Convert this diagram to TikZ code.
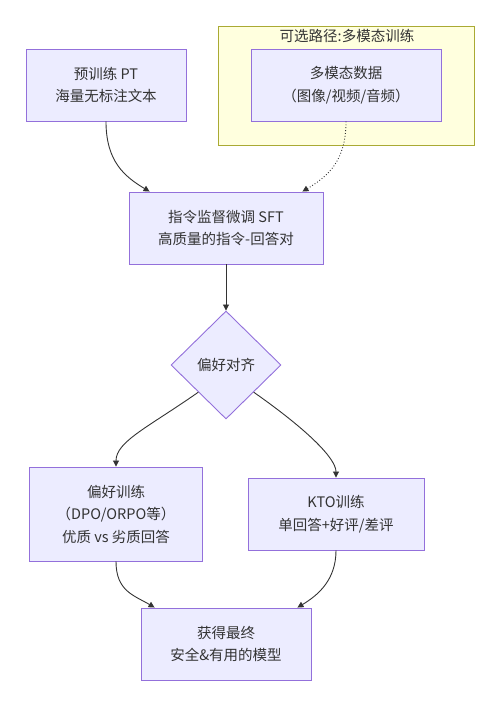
\documentclass[tikz,border=0pt]{standalone}
\usepackage{fontspec}
\setmainfont{Noto Sans CJK SC}
\usetikzlibrary{shapes.geometric}
\usetikzlibrary{arrows.meta}
\definecolor{boxfill}{HTML}{ECECFF}
\definecolor{boxline}{HTML}{9370DB}
\definecolor{areafill}{HTML}{FFFFDE}
\definecolor{arealine}{HTML}{AAAA33}
\definecolor{ink}{HTML}{333333}
\tikzset{
  stage/.style={draw=boxline, fill=boxfill, line width=0.9pt, align=center, text=ink, inner sep=0pt},
  choice/.style={diamond, draw=boxline, fill=boxfill, line width=0.9pt, text=ink, inner sep=0pt, aspect=1},
  flow/.style={draw=ink, line width=0.9pt, -{Triangle[length=6pt,width=6pt]}}
}

\begin{document}
\begin{tikzpicture}[x=1pt, y=1pt, font=\fontsize{14.5}{22.5}\selectfont]
\useasboundingbox (0,0) rectangle (500,707);

\coordinate (P) at (106,622);
\coordinate (M) at (346,622);
\coordinate (S) at (226,479);
\coordinate (D) at (226,342);
\coordinate (L) at (116,193);
\coordinate (K) at (336,193);
\coordinate (F) at (226,63);

\node[draw=arealine, fill=areafill, line width=0.9pt, minimum width=256pt, minimum height=119pt, inner sep=0pt] (area) at (346,621.5) {};
\node[text=ink] (areatitle) at (347,671) {可选路径:多模态训练};

\node[stage, minimum width=160pt, minimum height=72pt] (pt) at (P) {预训练 PT\\海量无标注文本};
\node[stage, minimum width=190pt, minimum height=72pt] (mm) at (M) {多模态数据\\（图像/视频/音频）};
\node[stage, minimum width=194pt, minimum height=72pt] (sft) at (S) {指令监督微调 SFT\\高质量的指令-回答对};
\node[choice, minimum width=110pt, minimum height=108pt] (align) at (D) {偏好对齐};
\node[stage, minimum width=173pt, minimum height=94pt] (pref) at (L) {偏好训练\\（DPO/ORPO等）\\优质 vs 劣质回答};
\node[stage, minimum width=176pt, minimum height=72pt] (kto) at (K) {KTO训练\\单回答+好评/差评};
\node[stage, minimum width=170pt, minimum height=72pt] (final) at (F) {获得最终\\安全\&有用的模型};

\draw[flow] (pt.south) .. controls +(0,-40) and +(-25,15) .. ([xshift=21pt]sft.north west);
\draw[flow, dotted] (mm.south) .. controls +(0,-40) and +(25,15) .. ([xshift=-21pt]sft.north east);
\draw[flow] (sft.south) -- (align.north);
\draw[flow] (align.south west) .. controls +(-50,-35) and +(0,25) .. (pref.north);
\draw[flow] (align.south east) .. controls +(50,-35) and +(0,20) .. (kto.north);
\draw[flow] (pref.south) .. controls +(0,-30) and +(-20,12) .. ([xshift=14pt]final.north west);
\draw[flow] (kto.south) .. controls +(0,-30) and +(20,12) .. ([xshift=-14pt]final.north east);
\end{tikzpicture}
\end{document}
